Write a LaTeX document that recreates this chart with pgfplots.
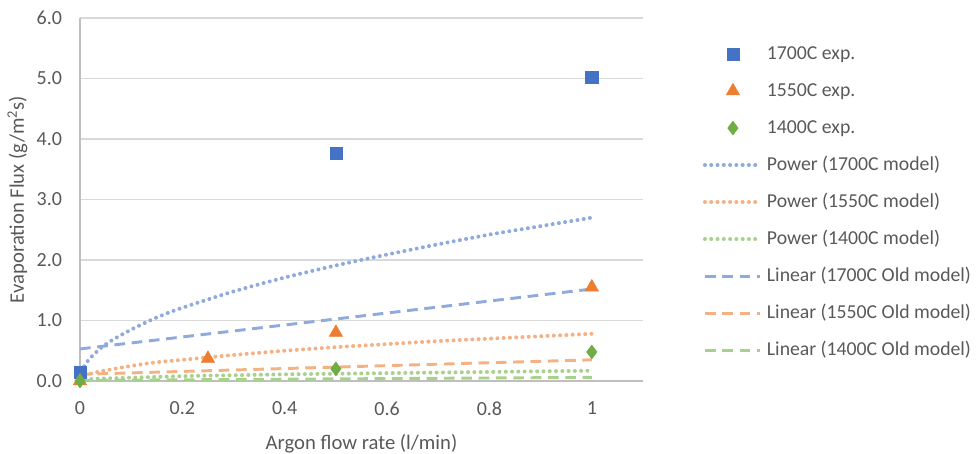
\documentclass[border=0pt]{standalone}
\usepackage{pgfplots}
\pgfplotsset{compat=1.18}
\usepackage{fontspec}
\setmainfont{Carlito}
\definecolor{cblue}{HTML}{4472C4}
\definecolor{corange}{HTML}{ED7D31}
\definecolor{cgreen}{HTML}{70AD47}
\definecolor{lblue}{HTML}{8FAADC}
\definecolor{lorange}{HTML}{F4B183}
\definecolor{lgreen}{HTML}{A9D18E}
\definecolor{txt}{HTML}{595959}
\definecolor{gridc}{HTML}{D9D9D9}
\definecolor{axc}{HTML}{BFBFBF}
\pgfplotsset{
  lineleg/.style={legend image code/.code={\draw[##1] (0pt,0pt) -- (41pt,0pt);}},
  markleg/.style={legend image code/.code={\draw[##1] plot coordinates {(21pt,0pt)};}},
}
\begin{document}
\begin{tikzpicture}[x=1pt,y=1pt]
\useasboundingbox (-60,-54.75) rectangle (672,285.75);
\begin{axis}[
  at={(0,0)}, anchor=origin,
  scale only axis, width=422.25pt, height=272.25pt,
  xmin=0, xmax=1.1, ymin=0, ymax=6,
  xtick={0,0.2,0.4,0.6,0.8,1},
  ytick={0,1,2,3,4,5,6},
  axis x line*=bottom, axis y line*=left,
  axis line style={axc, line width=1pt, -},
  ymajorgrids, grid style={gridc, line width=1pt},
  major tick length=0pt,
  tick label style={font=\fontsize{15}{18}\selectfont, text=txt},
  /pgf/number format/assume math mode=true,
  yticklabel style={/pgf/number format/fixed, /pgf/number format/fixed zerofill, /pgf/number format/precision=1, xshift=-10pt},
  xticklabel style={yshift=-12pt},
  xlabel={Argon flow rate (l/min)},
  ylabel={Evaporation Flux (g/m\textsuperscript{2}s)},
  label style={font=\fontsize{15.5}{18}\selectfont, text=txt},
  xlabel style={yshift=-7pt},
  ylabel style={yshift=0pt},
  clip=false,
  legend style={at={(1.106,0.928)}, anchor=north west, draw=none, fill=none,
    font=\fontsize{14.8}{18}\selectfont, text=txt, row sep=13.25pt,
    inner sep=0pt, nodes={inner sep=0pt, text height=11pt, text depth=3.5pt},
    /tikz/every odd column/.append style={column sep=4pt}},
  legend cell align=left,
]
% experimental
\addplot[only marks, mark=square*, mark size=4.6pt, cblue, mark options={fill=cblue, draw=cblue}, markleg] coordinates {(0,0.15) (0.5,3.77) (1,5.02)};
\addlegendentry{1700C exp.}
\addplot[only marks, mark=triangle*, mark size=5.8pt, corange, mark options={fill=corange, draw=corange}, markleg] coordinates {(0,0.0) (0.25,0.37) (0.5,0.8) (1,1.55)};
\addlegendentry{1550C exp.}
\addplot[only marks, mark=diamond*, mark size=5.2pt, cgreen, mark options={fill=cgreen, draw=cgreen}, markleg] coordinates {(0,0.0) (0.5,0.2) (1,0.48)};
\addlegendentry{1400C exp.}
% power models
\addplot[lblue, line width=3pt, line cap=round, dash pattern=on 0.01pt off 4.7pt, smooth, mark=none, lineleg] coordinates {
(0.003,0.15) (0.006,0.21) (0.01,0.27) (0.02,0.38) (0.04,0.54) (0.06,0.66) (0.1,0.85) (0.15,1.05) (0.2,1.21) (0.3,1.48) (0.4,1.71) (0.5,1.91) (0.6,2.09) (0.7,2.26) (0.8,2.42) (0.9,2.56) (1.0,2.70)};
\addlegendentry{Power (1700C model)}
\addplot[lorange, line width=3pt, line cap=round, dash pattern=on 0.01pt off 4.7pt, smooth, mark=none, lineleg] coordinates {
(0.01,0.09) (0.02,0.12) (0.04,0.16) (0.06,0.19) (0.1,0.25) (0.15,0.31) (0.2,0.35) (0.3,0.43) (0.4,0.50) (0.5,0.56) (0.6,0.61) (0.7,0.66) (0.8,0.70) (0.9,0.74) (1.0,0.78)};
\addlegendentry{Power (1550C model)}
\addplot[lgreen, line width=3pt, line cap=round, dash pattern=on 0.01pt off 4.7pt, smooth, mark=none, lineleg] coordinates {
(0.01,0.025) (0.02,0.03) (0.04,0.04) (0.06,0.045) (0.1,0.055) (0.2,0.08) (0.3,0.095) (0.4,0.11) (0.5,0.12) (0.6,0.13) (0.7,0.14) (0.8,0.15) (0.9,0.16) (1.0,0.17)};
\addlegendentry{Power (1400C model)}
% linear old models
\addplot[lblue, line width=2.2pt, dash pattern=on 8pt off 5pt, mark=none, lineleg] coordinates {(0,0.53) (1,1.52)};
\addlegendentry{Linear (1700C Old model)}
\addplot[lorange, line width=2.2pt, dash pattern=on 8pt off 5pt, mark=none, lineleg] coordinates {(0,0.11) (1,0.35)};
\addlegendentry{Linear (1550C Old model)}
\addplot[lgreen, line width=2.2pt, dash pattern=on 8pt off 5pt, mark=none, lineleg] coordinates {(0,0.01) (1,0.06)};
\addlegendentry{Linear (1400C Old model)}
\end{axis}
\end{tikzpicture}
\end{document}
